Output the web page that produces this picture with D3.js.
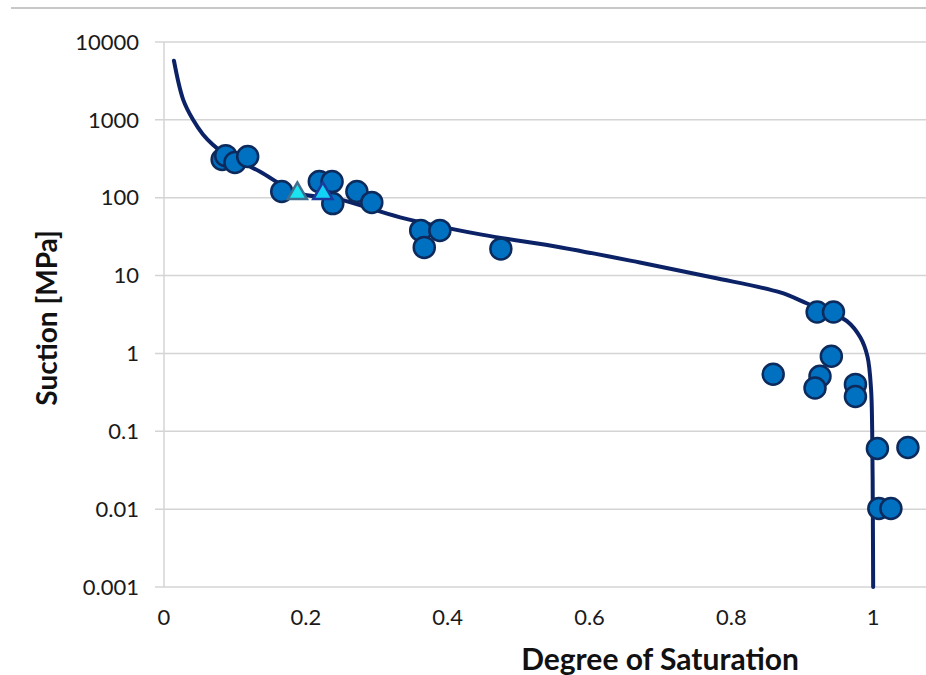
<!DOCTYPE html>
<html>
<head>
<meta charset="utf-8">
<script src="https://cdn.jsdelivr.net/npm/d3@7"></script>
<style>
  body { margin: 0; background: #fff; }
  svg { display: block; font-family: Lato, "Open Sans", sans-serif; }
  .grid line { stroke: #d4d4d4; stroke-width: 1.5; }
  .tick-label { font-size: 22px; fill: #1a1a1a; }
  .axis-title { font-size: 28px; font-weight: bold; fill: #111; }
</style>
</head>
<body>
<div id="chart"></div>
<script>
// measured points: degree of saturation vs suction (MPa)
const satPoints = [0.082, 0.087, 0.100, 0.118, 0.166, 0.219, 0.237, 0.238, 0.272, 0.293,
  0.362, 0.389, 0.367, 0.475, 0.921, 0.944, 0.941, 0.925, 0.859, 0.918, 0.975, 0.975,
  1.006, 1.049, 1.008, 1.025];
const suctionPoints = [310, 347, 283, 338, 120, 161, 161, 84, 120, 87,
  38, 38, 23, 22, 3.4, 3.4, 0.92, 0.51, 0.54, 0.36, 0.40, 0.28,
  0.060, 0.062, 0.0102, 0.0102];

// two triangle markers
const satTriangles = [0.188, 0.224];
const suctionTriangles = [120, 120];

// fitted retention curve
const satCurve = [0.014, 0.027, 0.041, 0.055, 0.069, 0.083, 0.135, 0.188, 0.248, 0.333,
  0.446, 0.56, 0.671, 0.774, 0.869, 0.907, 0.940, 0.963, 0.982, 0.992, 0.997, 0.9986, 0.9995, 1.0];
const suctionCurve = [5750, 1820, 1000, 650, 480, 380, 217, 115, 95, 56,
  33.8, 23, 14.7, 9.45, 6.07, 4.38, 3.3, 2.6, 1.6, 0.91, 0.35, 0.105, 0.01, 0.001];

const xTicks = [0, 0.2, 0.4, 0.6, 0.8, 1];
const yTicks = [0.001, 0.01, 0.1, 1, 10, 100, 1000, 10000];
const yTickLabels = ['0.001', '0.01', '0.1', '1', '10', '100', '1000', '10000'];

const width = 926, height = 675;
const svg = d3.select('#chart').append('svg').attr('width', width).attr('height', height);

const x = d3.scaleLinear().domain([0, 1.2]).range([164, 1015]);
const y = d3.scaleLog().domain([0.001, 10000]).range([587, 42]);

// outer border line at the top
svg.append('line').attr('x1', 11).attr('x2', width).attr('y1', 8).attr('y2', 8)
  .attr('stroke', '#c8c8c8').attr('stroke-width', 2);

const grid = svg.append('g').attr('class', 'grid');
grid.selectAll('line.h').data(yTicks).join('line').attr('class', 'h')
  .attr('x1', 155).attr('x2', width)
  .attr('y1', (d) => y(d)).attr('y2', (d) => y(d));
grid.append('line').attr('x1', x(0)).attr('x2', x(0)).attr('y1', y(10000)).attr('y2', y(0.001));

svg.append('g').selectAll('text').data(yTicks).join('text')
  .attr('class', 'tick-label')
  .attr('x', 139).attr('y', (d) => y(d)).attr('dy', '0.35em')
  .attr('text-anchor', 'end')
  .text((d, i) => yTickLabels[i]);

svg.append('g').selectAll('text').data(xTicks).join('text')
  .attr('class', 'tick-label')
  .attr('x', (d) => x(d)).attr('y', 625)
  .attr('text-anchor', 'middle')
  .text((d) => d);

svg.append('text').attr('class', 'axis-title')
  .attr('x', 660).attr('y', 670).attr('text-anchor', 'middle')
  .style('font-size', '30px')
  .text('Degree of Saturation');

svg.append('text').attr('class', 'axis-title')
  .attr('transform', 'translate(57,318) rotate(-90)').attr('text-anchor', 'middle')
  .text('Suction [MPa]');

const curve = satCurve.map((s, i) => [s, suctionCurve[i]]);
svg.append('path').datum(curve)
  .attr('fill', 'none').attr('stroke', '#0c2266').attr('stroke-width', 4)
  .attr('stroke-linecap', 'round')
  .attr('d', d3.line().x((d) => x(d[0])).y((d) => y(d[1])).curve(d3.curveCatmullRom.alpha(0.5)));

svg.append('g').selectAll('circle').data(satPoints).join('circle')
  .attr('cx', (d) => x(d)).attr('cy', (d, i) => y(suctionPoints[i]))
  .attr('r', 10.5)
  .attr('fill', '#0070c0').attr('stroke', '#0d2a5c').attr('stroke-width', 2.5);

const triFill = ['#19e4f0', '#12d2f6'];
const triStroke = ['#3f6f8f', '#1c3a9c'];
svg.append('g').selectAll('path').data(satTriangles).join('path')
  .attr('transform', (d, i) => `translate(${x(d)},${y(suctionTriangles[i]) + 2})`)
  .attr('d', d3.symbol(d3.symbolTriangle, 160))
  .attr('fill', (d, i) => triFill[i]).attr('stroke', (d, i) => triStroke[i]).attr('stroke-width', 2.5);
</script>
</body>
</html>
